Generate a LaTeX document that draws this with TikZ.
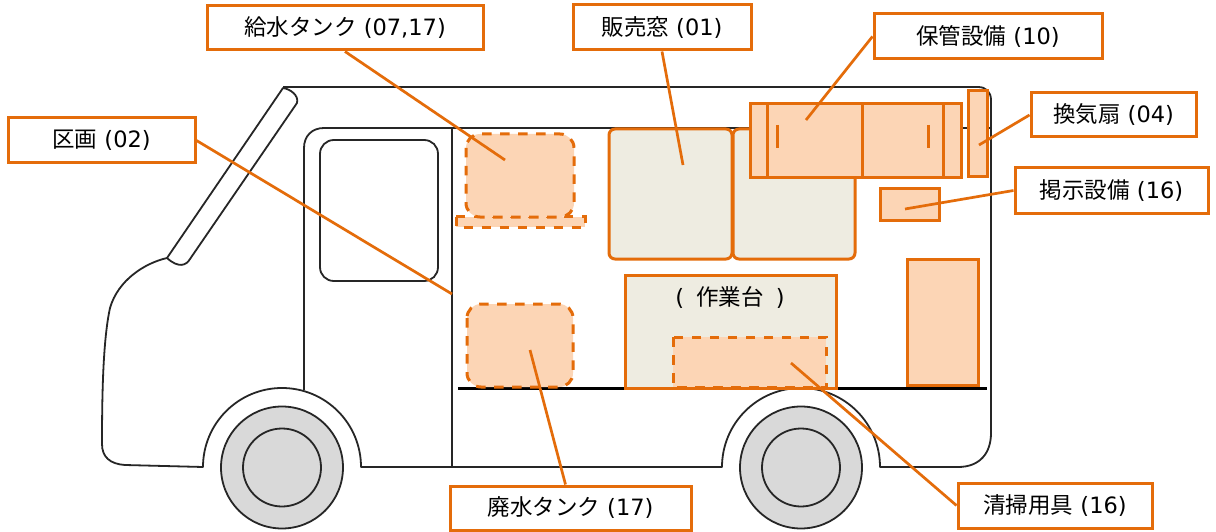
\documentclass[tikz,border=0pt]{standalone}
\usepackage{fontspec}
\setmainfont{DejaVu Sans}
\newfontfamily\cjk{Noto Sans CJK JP}
\newcommand\lbltext[2]{\raisebox{2pt}{{\cjk #1} #2}}
\definecolor{org}{HTML}{E46C0A}
\definecolor{peach}{HTML}{FCD5B5}
\definecolor{beige}{HTML}{EEECE1}
\definecolor{tyre}{HTML}{D9D9D9}
\definecolor{ink}{HTML}{262626}
\begin{document}
\begin{tikzpicture}[x=1pt,y=-1pt,
  van/.style={draw=ink,line width=1.8pt,line join=round},
  solidpart/.style={draw=org,fill=peach,line width=3pt},
  dashpart/.style={draw=org,fill=peach,line width=3pt,dash pattern=on 9.5pt off 8.5pt},
  panel/.style={draw=org,fill=beige,line width=3pt},
  lbl/.style={draw=org,fill=white,line width=3pt,inner sep=0pt,align=center,font=\fontsize{22.5}{26}\selectfont,text=black},
  leader/.style={draw=org,line width=2.7pt}]
\useasboundingbox (0,0) rectangle (1216,532);
\fill[white] (0,0) rectangle (1216,532);
% body
\draw[van] (283,87) -- (978,87) .. controls (986,87) and (991,92) .. (991,100) -- (991,433)
  .. controls (991,453) and (980,467) .. (958,467) -- (880,467)
  arc[start angle=360,end angle=180,radius=79] -- (722,467) -- (361,467)
  arc[start angle=360,end angle=180,radius=79] -- (125,465)
  .. controls (110,464) and (102,457) .. (102,444)
  .. controls (102,395) and (103,340) .. (110,308)
  .. controls (118,280) and (145,263) .. (167,258);
% windshield
\draw[van] (167,258) -- (283,88) .. controls (290,89) and (299,95) .. (297,103)
  -- (190,259) .. controls (186,266) and (178,268) .. (167,258);
% door, bulkhead, window, floor
\draw[van] (304,390) -- (304,148) .. controls (304,136) and (312,128) .. (324,128) -- (991,128);
\draw[van] (452,128) -- (452,467);
\draw[van] (320,154) .. controls (320,146) and (326,140) .. (334,140) -- (424,140)
  .. controls (432,140) and (438,146) .. (438,154) -- (438,267)
  .. controls (438,275) and (432,281) .. (424,281) -- (334,281)
  .. controls (326,281) and (320,275) .. (320,267) -- cycle;
\draw[draw=black,line width=2.4pt] (458,388.5) -- (987,388.5);
% wheels
\foreach \cx in {282,801} {
  \draw[van,fill=tyre] (\cx,467.5) circle[radius=61];
  \draw[van,fill=tyre] (\cx,467.5) circle[radius=39];
}
% interior parts
\draw[panel,rounded corners=6pt] (609,129) rectangle (732,259);
\draw[panel,rounded corners=6pt] (733,129) rectangle (855,259);
\draw[panel] (625,275) rectangle (836,388);
\node[font=\fontsize{22.5}{26}\selectfont,text=black] (wt) at (730,297) {(\hspace{5pt} {\cjk 作業台} \hspace{5pt})};
\draw[dashpart] (673,337) rectangle (826,387);
\draw[dashpart] (456,216.5) rectangle (585,227);
\draw[dashpart,rounded corners=14pt] (466,134) rectangle (574,217);
\draw[dashpart,rounded corners=14pt] (467,304) rectangle (573,387);
\draw[solidpart] (750,104) rectangle (961,178);
\draw[solidpart] (767,104) -- (767,178) (862,104) -- (862,178) (943,104) -- (943,178);
\draw[solidpart] (777.5,125) -- (777.5,148) (928.5,125) -- (928.5,148);
\draw[solidpart] (968,91) rectangle (987,177);
\draw[solidpart] (880,189) rectangle (939,220);
\draw[solidpart] (907,259) rectangle (978,385);
% labels
\node[lbl,minimum width=276pt,minimum height=44pt] (a) at (345,28) {\lbltext{給水タンク}{(07,17)}};
\node[lbl,minimum width=178pt,minimum height=45pt] (b) at (662,27.5) {\lbltext{販売窓}{(01)}};
\node[lbl,minimum width=228pt,minimum height=45pt] (c) at (988,36.5) {\lbltext{保管設備}{(10)}};
\node[lbl,minimum width=165pt,minimum height=44pt] (d) at (1113.5,115) {\lbltext{換気扇}{(04)}};
\node[lbl,minimum width=193pt,minimum height=45pt] (e) at (1111.5,190.5) {\lbltext{掲示設備}{(16)}};
\node[lbl,minimum width=187pt,minimum height=45pt] (f) at (101.5,140.5) {\lbltext{区画}{(02)}};
\node[lbl,minimum width=241pt,minimum height=44pt] (g) at (570.5,508) {\lbltext{廃水タンク}{(17)}};
\node[lbl,minimum width=194pt,minimum height=45pt] (h) at (1055,505.5) {\lbltext{清掃用具}{(16)}};
% leader targets
\coordinate (ta) at (505,160);
\coordinate (tb) at (683,165);
\coordinate (tc) at (806,120);
\coordinate (td) at (979,145);
\coordinate (te) at (905,209);
\coordinate (tf) at (452,294);
\coordinate (tg) at (530,350);
\coordinate (th) at (791,363);
\draw[leader] (a.south) -- (ta);
\draw[leader] (b.south) -- (tb);
\draw[leader] (c.west) -- (tc);
\draw[leader] (d.west) -- (td);
\draw[leader] (e.west) -- (te);
\draw[leader] (f.east) -- (tf);
\draw[leader] ([xshift=-5pt]g.north) -- (tg);
\draw[leader] (h.west) -- (th);
\end{tikzpicture}
\end{document}
